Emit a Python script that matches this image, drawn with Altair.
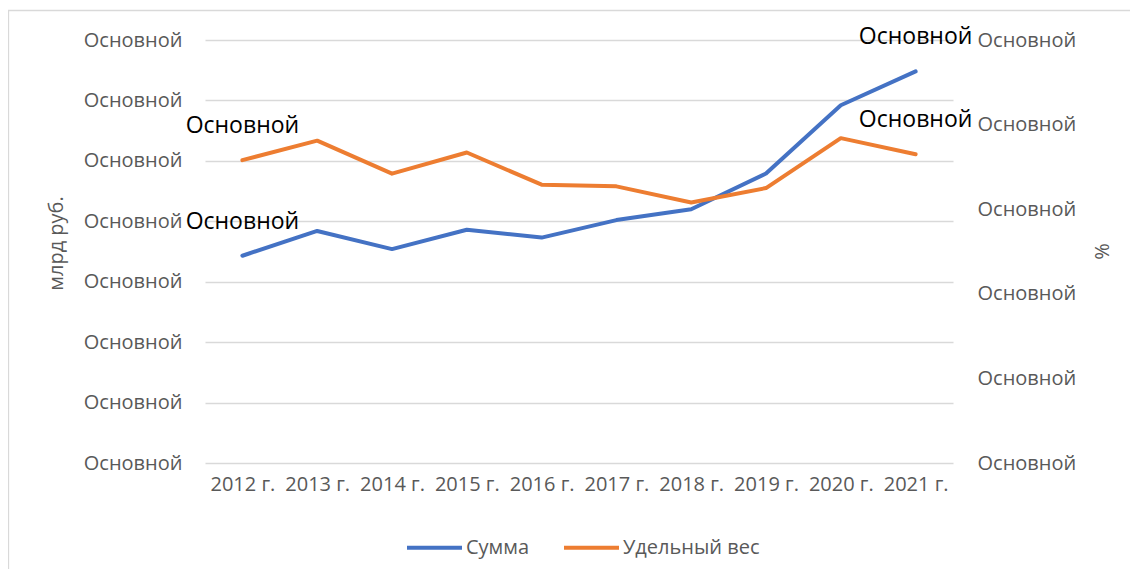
import altair as alt
import pandas as pd

years = ["2012 г.", "2013 г.", "2014 г.", "2015 г.", "2016 г.",
         "2017 г.", "2018 г.", "2019 г.", "2020 г.", "2021 г."]
summa = [3.43, 3.84, 3.54, 3.86, 3.73, 4.02, 4.20, 4.79, 5.92, 6.48]
share = [3.58, 3.81, 3.42, 3.67, 3.29, 3.27, 3.08, 3.25, 3.84, 3.65]
point_labels = ["Основной", "", "", "", "", "", "", "", "", "Основной"]
series_names = ["Сумма", "Удельный вес"]
series_colors = ["#4472C4", "#ED7D31"]
left_ticks = [0, 1, 2, 3, 4, 5, 6, 7]
right_ticks = [0, 1, 2, 3, 4, 5]

df = pd.DataFrame({"year": years, "summa": summa, "share": share, "lbl": point_labels})

FONT = "Open Sans"
GRAY = "#595959"
FS = 20

x_enc = alt.X("year:N", sort=years,
              scale=alt.Scale(paddingInner=0, paddingOuter=0),
              axis=alt.Axis(title=None, labelAngle=0, domain=False, ticks=False,
                            labelPadding=11, labelFontSize=FS, labelColor=GRAY,
                            labelFont=FONT, grid=False))

color_scale = alt.Scale(domain=series_names, range=series_colors)
legend = alt.Legend(title=None, orient="none", direction="horizontal",
                    legendX=200, legendY=478, symbolType="stroke",
                    symbolSize=3025, symbolStrokeWidth=4,
                    labelFontSize=FS, labelFont=FONT, labelColor=GRAY,
                    labelOffset=2, columnPadding=26)

base = alt.Chart(df)

y_left = alt.Y("summa:Q", scale=alt.Scale(domain=[0, 7], nice=False, zero=False),
               axis=alt.Axis(values=left_ticks, labelExpr="'Основной'",
                             title="млрд руб.", titleFontSize=FS, titleFont=FONT,
                             titleFontWeight="normal", titleColor=GRAY,
                             titleAngle=-90, titleX=-149, titleY=203,
                             titleAlign="center", titleBaseline="middle",
                             domain=False, ticks=False, grid=True,
                             gridColor="#d9d9d9", gridWidth=1.3,
                             labelPadding=23, labelFontSize=FS, labelFont=FONT,
                             labelColor=GRAY))

y_right = alt.Y("share:Q", scale=alt.Scale(domain=[0, 5], nice=False, zero=False),
                axis=alt.Axis(orient="right", values=right_ticks,
                              labelExpr="'Основной'", title="%",
                              titleFontSize=FS, titleFont=FONT,
                              titleFontWeight="normal", titleColor=GRAY,
                              titleAngle=-90, titleX=149, titleY=211,
                              titleAlign="center", titleBaseline="middle",
                              domain=False, ticks=False, grid=False,
                              labelPadding=24, labelFontSize=FS, labelFont=FONT,
                              labelColor=GRAY, labelAlign="left"))

line_left = base.transform_calculate(series="'Сумма'").mark_line(
    strokeWidth=4, strokeCap="round", strokeJoin="round").encode(
    x=x_enc, y=y_left,
    color=alt.Color("series:N", scale=color_scale, legend=legend))
text_left = base.mark_text(dy=-34, fontSize=23, font=FONT, color="black").encode(
    x=x_enc, y=y_left, text="lbl:N")
left = alt.layer(line_left, text_left)

line_right = base.transform_calculate(series="'Удельный вес'").mark_line(
    strokeWidth=4, strokeCap="round", strokeJoin="round").encode(
    x=x_enc, y=y_right,
    color=alt.Color("series:N", scale=color_scale, legend=legend))
text_right = base.mark_text(dy=-34, fontSize=23, font=FONT, color="black").encode(
    x=x_enc, y=y_right, text="lbl:N")
right = alt.layer(line_right, text_right)

border = alt.Chart(pd.DataFrame({"k": [0]})).mark_rect(
    fill="transparent", stroke="#d9d9d9", strokeWidth=1.3).encode(
    x=alt.value(-196.5), x2=alt.value(935), y=alt.value(-29.5), y2=alt.value(540))

chart = alt.layer(border, left, right).resolve_scale(y="independent").properties(
    width=748, height=423,
    autosize=alt.AutoSizeParams(type="none"),
    padding={"left": 197, "top": 32, "right": 177, "bottom": 106},
    background="white",
).configure_view(stroke=None)

chart.save("out.html", embed_options={"renderer": "svg", "actions": False})
